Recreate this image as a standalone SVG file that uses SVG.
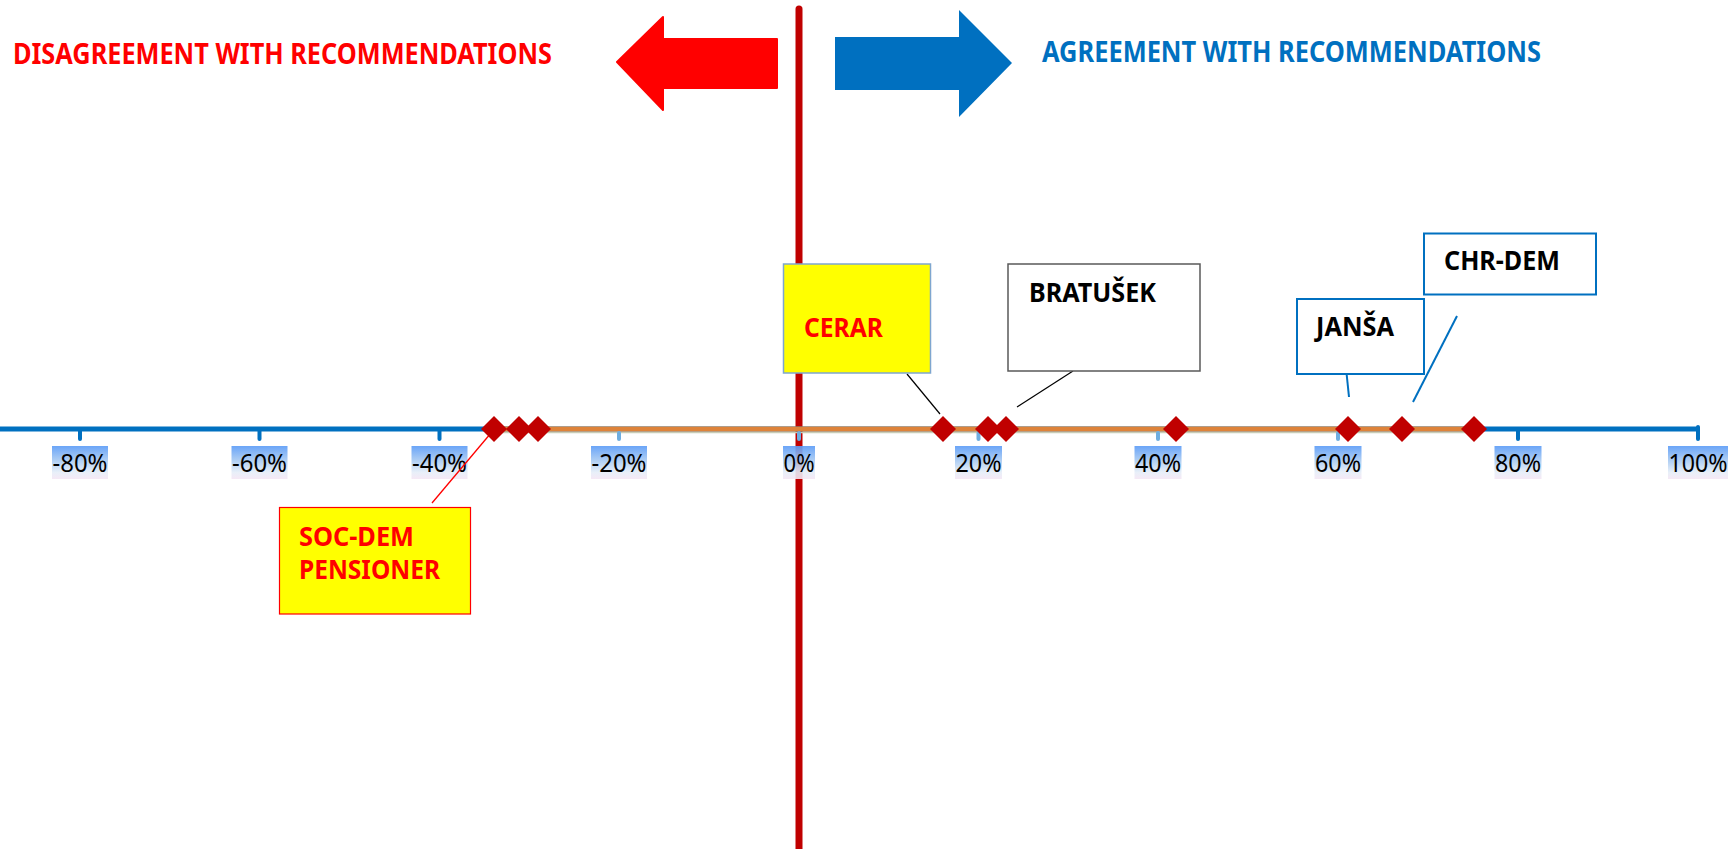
<svg xmlns="http://www.w3.org/2000/svg" width="1735" height="849" viewBox="0 0 1735 849">
  <defs>
    <linearGradient id="lblGrad" x1="0" y1="0" x2="0" y2="1">
      <stop offset="0" stop-color="#5A9BF7"/>
      <stop offset="0.45" stop-color="#A8CAF2"/>
      <stop offset="0.8" stop-color="#E6EEF8"/>
      <stop offset="1" stop-color="#F4E6F4"/>
    </linearGradient>
    <style>
      .title { font-family: "Noto Sans", "Liberation Sans", sans-serif; font-weight: bold; font-size: 29px; }
      .boxlbl { font-family: "Noto Sans", "Liberation Sans", sans-serif; font-weight: bold; font-size: 26px; }
      .pct { font-family: "Noto Sans", "Liberation Sans", Arial, sans-serif; font-size: 25px; fill: #000; text-anchor: middle; }
      .lblbg { fill: url(#lblGrad); opacity: 0.9; }
      .tick { stroke: #0070C0; stroke-width: 4; stroke-linecap: round; }
      .tickf { stroke: #6FAEE0; stroke-width: 4; stroke-linecap: round; }
      .dia { fill: #C00000; }
    </style>
  </defs>

  <!-- vertical divider -->
  <line id="divider" x1="799" y1="9" x2="799" y2="860" stroke="#C00000" stroke-width="7" stroke-linecap="round"/>

  <!-- direction arrows -->
  <g id="arrow-left">
    <polygon points="617,62 663,17 663,39 777,39 777,88 663,88 663,110" fill="#FF0000" stroke="#FF0000" stroke-width="2" stroke-linejoin="round"/>
  </g>
  <g id="arrow-right">
    <polygon points="835,37 959,37 959,10 1012,63 959,117 959,90 835,90" fill="#0070C0"/>
  </g>

  <g id="title-disagree">
    <text class="title" x="13" y="64" fill="#FF0000" textLength="539" lengthAdjust="spacingAndGlyphs">DISAGREEMENT WITH RECOMMENDATIONS</text>
  </g>
  <g id="title-agree">
    <text class="title" x="1042" y="62" fill="#0070C0" textLength="499" lengthAdjust="spacingAndGlyphs">AGREEMENT WITH RECOMMENDATIONS</text>
  </g>

  <!-- axis -->
  <g id="axis">
    <line x1="0" y1="429" x2="1698" y2="429" stroke="#0070C0" stroke-width="5"/>
    <line class="tick" x1="80" y1="429" x2="80" y2="439"/>
    <line class="tick" x1="259.5" y1="429" x2="259.5" y2="439"/>
    <line class="tick" x1="439.5" y1="429" x2="439.5" y2="439"/>
    <line class="tick" x1="1518" y1="429" x2="1518" y2="439"/>
    <line class="tick" x1="1698" y1="427" x2="1698" y2="439"/>
    <line x1="494" y1="432.5" x2="1474" y2="432.5" stroke="#C8CDB8" stroke-width="1.5"/>
    <line x1="494" y1="429" x2="1474" y2="429" stroke="#DE833A" stroke-width="5"/>
    <line class="tickf" x1="619" y1="433" x2="619" y2="439"/>
    <line class="tickf" x1="799" y1="433" x2="799" y2="439"/>
    <line class="tickf" x1="978.5" y1="433" x2="978.5" y2="439"/>
    <line class="tickf" x1="1158" y1="433" x2="1158" y2="439"/>
    <line class="tickf" x1="1338" y1="433" x2="1338" y2="439"/>
  </g>

  <!-- axis labels -->
  <g id="labels">
    <rect class="lblbg" x="52" y="446" width="56" height="33"/>
    <text class="pct" x="80" y="472" textLength="55" lengthAdjust="spacingAndGlyphs">-80%</text>
    <rect class="lblbg" x="231.5" y="446" width="56" height="33"/>
    <text class="pct" x="259.5" y="472" textLength="55" lengthAdjust="spacingAndGlyphs">-60%</text>
    <rect class="lblbg" x="411.5" y="446" width="56" height="33"/>
    <text class="pct" x="439.5" y="472" textLength="55" lengthAdjust="spacingAndGlyphs">-40%</text>
    <rect class="lblbg" x="591" y="446" width="56" height="33"/>
    <text class="pct" x="619" y="472" textLength="55" lengthAdjust="spacingAndGlyphs">-20%</text>
    <rect class="lblbg" x="783" y="446" width="32" height="33"/>
    <text class="pct" x="799" y="472" textLength="31" lengthAdjust="spacingAndGlyphs">0%</text>
    <rect class="lblbg" x="955" y="446" width="47" height="33"/>
    <text class="pct" x="978.5" y="472" textLength="46" lengthAdjust="spacingAndGlyphs">20%</text>
    <rect class="lblbg" x="1134.5" y="446" width="47" height="33"/>
    <text class="pct" x="1158" y="472" textLength="46" lengthAdjust="spacingAndGlyphs">40%</text>
    <rect class="lblbg" x="1314.5" y="446" width="47" height="33"/>
    <text class="pct" x="1338" y="472" textLength="46" lengthAdjust="spacingAndGlyphs">60%</text>
    <rect class="lblbg" x="1494.5" y="446" width="47" height="33"/>
    <text class="pct" x="1518" y="472" textLength="46" lengthAdjust="spacingAndGlyphs">80%</text>
    <rect class="lblbg" x="1668" y="446" width="60" height="33"/>
    <text class="pct" x="1698" y="472" textLength="59" lengthAdjust="spacingAndGlyphs">100%</text>
  </g>

  <!-- connectors -->
  <g id="connectors">
    <line x1="432" y1="503" x2="491" y2="433" stroke="#FF0000" stroke-width="1.3"/>
    <line x1="907" y1="374" x2="940" y2="414" stroke="#000" stroke-width="1.2"/>
    <line x1="1073" y1="371" x2="1017" y2="407" stroke="#000" stroke-width="1.2"/>
    <line x1="1346" y1="368" x2="1349" y2="397" stroke="#0070C0" stroke-width="2"/>
    <line x1="1457" y1="316" x2="1413" y2="402" stroke="#0070C0" stroke-width="2"/>
  </g>

  <!-- data points -->
  <g id="points">
    <polygon class="dia" points="494,416 507,429 494,442 481,429"/>
    <polygon class="dia" points="519,416 532,429 519,442 506,429"/>
    <polygon class="dia" points="538,416 551,429 538,442 525,429"/>
    <polygon class="dia" points="943,416 956,429 943,442 930,429"/>
    <polygon class="dia" points="988,416 1001,429 988,442 975,429"/>
    <polygon class="dia" points="1006,416 1019,429 1006,442 993,429"/>
    <polygon class="dia" points="1176,416 1189,429 1176,442 1163,429"/>
    <polygon class="dia" points="1348,416 1361,429 1348,442 1335,429"/>
    <polygon class="dia" points="1402,416 1415,429 1402,442 1389,429"/>
    <polygon class="dia" points="1474,416 1487,429 1474,442 1461,429"/>
  </g>

  <!-- callout boxes -->
  <g id="cerar">
    <rect x="783.5" y="264" width="147" height="109" fill="#FFFF00" stroke="#7FA6CF" stroke-width="1.5"/>
    <text class="boxlbl" x="804" y="337" fill="#FF0000" textLength="79" lengthAdjust="spacingAndGlyphs">CERAR</text>
  </g>
  <g id="bratusek">
    <rect x="1008" y="264" width="192" height="107" fill="#FFFFFF" stroke="#595959" stroke-width="1.5"/>
    <text class="boxlbl" x="1029" y="302" fill="#000" textLength="127" lengthAdjust="spacingAndGlyphs">BRATUŠEK</text>
  </g>
  <g id="jansa">
    <rect x="1297" y="299" width="127" height="75" fill="#FFFFFF" stroke="#0070C0" stroke-width="2"/>
    <text class="boxlbl" x="1316" y="336" fill="#000" textLength="78" lengthAdjust="spacingAndGlyphs">JANŠA</text>
  </g>
  <g id="chrdem">
    <rect x="1424" y="233.5" width="172" height="61" fill="#FFFFFF" stroke="#0070C0" stroke-width="2"/>
    <text class="boxlbl" x="1444" y="270" fill="#000" textLength="116" lengthAdjust="spacingAndGlyphs">CHR-DEM</text>
  </g>
  <g id="socdem">
    <rect x="279.5" y="507.5" width="191" height="106.5" fill="#FFFF00" stroke="#FF0000" stroke-width="1.2"/>
    <text class="boxlbl" x="299" y="546" fill="#FF0000" textLength="115" lengthAdjust="spacingAndGlyphs">SOC-DEM</text>
    <text class="boxlbl" x="299" y="579" fill="#FF0000" textLength="141" lengthAdjust="spacingAndGlyphs">PENSIONER</text>
  </g>
</svg>
